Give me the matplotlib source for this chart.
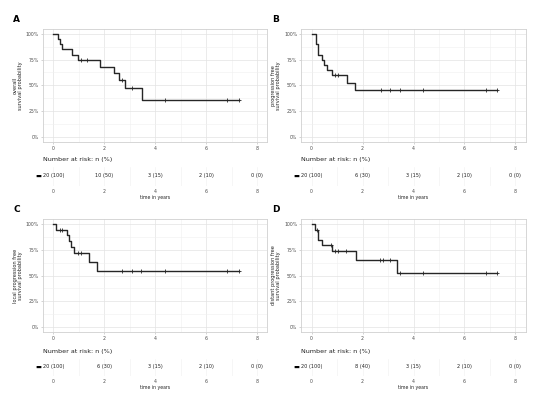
import numpy as np
import matplotlib
matplotlib.use("Agg")
import matplotlib.pyplot as plt
from matplotlib.ticker import MultipleLocator, FuncFormatter

# --- data (Kaplan-Meier steps) ---
A_times = [0, 0.20, 0.28, 0.34, 0.72, 0.96, 1.83, 2.39, 2.58, 2.83, 3.50]
A_surv = [1.0, 0.95, 0.90, 0.85, 0.80, 0.75, 0.682, 0.617, 0.552, 0.474, 0.354]
A_cens = [1.09, 1.34, 2.71, 3.08, 4.40, 6.84, 7.29]
A_risk = ["20 (100)", "10 (50)", "3 (15)", "2 (10)", "0 (0)"]

B_times = [0, 0.16, 0.24, 0.42, 0.50, 0.60, 0.80, 1.38, 1.69]
B_surv = [1.0, 0.90, 0.80, 0.75, 0.70, 0.65, 0.60, 0.526, 0.455]
B_cens = [0.92, 1.05, 2.71, 3.07, 3.48, 4.39, 6.83, 7.28]
B_risk = ["20 (100)", "6 (30)", "3 (15)", "2 (10)", "0 (0)"]

C_times = [0, 0.10, 0.55, 0.62, 0.69, 0.83, 1.42, 1.70]
C_surv = [1.0, 0.948, 0.893, 0.834, 0.779, 0.724, 0.636, 0.545]
C_cens = [0.26, 0.33, 0.98, 1.07, 2.71, 3.09, 3.46, 4.40, 6.84, 7.29]
C_risk = ["20 (100)", "6 (30)", "3 (15)", "2 (10)", "0 (0)"]

D_times = [0, 0.14, 0.24, 0.42, 0.81, 1.73, 3.36]
D_surv = [1.0, 0.948, 0.847, 0.795, 0.740, 0.656, 0.523]
D_cens = [0.21, 0.75, 0.91, 1.04, 1.33, 2.70, 2.80, 3.06, 3.46, 4.39, 6.83, 7.28]
D_risk = ["20 (100)", "8 (40)", "3 (15)", "2 (10)", "0 (0)"]

risk_times = [0, 2, 4, 6, 8]

panels = [
    ("A", "overall\nsurvival probability", A_times, A_surv, A_cens, A_risk),
    ("B", "progression free\nsurvival probability", B_times, B_surv, B_cens, B_risk),
    ("C", "local progression free\nsurvival probability", C_times, C_surv, C_cens, C_risk),
    ("D", "distant progression free\nsurvival probability", D_times, D_surv, D_cens, D_risk),
]

W, H = 538, 399
fig = plt.figure(figsize=(W / 100, H / 100), dpi=100)
fig.patch.set_facecolor("white")


def px_axes(left, top, right, bottom):
    # pixel box (from top-left) -> figure fraction
    return fig.add_axes([left / W, 1 - bottom / H, (right - left) / W, (bottom - top) / H])


line_col = "#262626"
grid_major = "#e3e3e3"
grid_minor = "#f0f0f0"
txt_col = "#4d4d4d"

# pixel layout: plot box, risk table box, title y, letter pos
layout = {
    "A": dict(x0=43.1, x1=267.2, top=28.9, bot=141.7, rt=167, rb=186, ry=160, lab=(13, 19)),
    "B": dict(x0=301.5, x1=525.6, top=28.9, bot=141.7, rt=167, rb=186, ry=160, lab=(272, 19)),
    "C": dict(x0=43.1, x1=267.2, top=219.2, bot=331.8, rt=359, rb=376, ry=351, lab=(13, 209)),
    "D": dict(x0=301.5, x1=525.6, top=219.2, bot=331.8, rt=359, rb=376, ry=351, lab=(272, 210)),
}

for letter, ylab, times, surv, cens, risk in panels:
    L = layout[letter]
    ax = px_axes(L["x0"], L["top"], L["x1"], L["bot"])

    t = np.array(times + [max(cens)])
    s = np.array(surv + [surv[-1]])
    ax.step(t, s, where="post", color=line_col, lw=1.0, zorder=3)
    c_s = np.array(surv)[np.searchsorted(times, cens, side="right") - 1]
    ax.plot(cens, c_s, ls="none", marker="+", ms=3, mew=0.6, color=line_col, zorder=4)

    ax.set_xlim(-0.4, 8.4)
    ax.set_ylim(-0.05, 1.05)
    ax.xaxis.set_major_locator(MultipleLocator(2))
    ax.xaxis.set_minor_locator(MultipleLocator(1))
    ax.yaxis.set_major_locator(MultipleLocator(0.25))
    ax.yaxis.set_minor_locator(MultipleLocator(0.125))
    ax.yaxis.set_major_formatter(FuncFormatter(lambda v, p: f"{v * 100:.0f}%"))
    ax.grid(which="major", color=grid_major, lw=0.5)
    ax.grid(which="minor", color=grid_minor, lw=0.4)
    ax.set_axisbelow(True)
    for sp in ax.spines.values():
        sp.set_color("#d0d0d0")
        sp.set_linewidth(0.6)
    ax.tick_params(which="major", length=1.5, width=0.4, color="#b3b3b3",
                   labelsize=3.3, labelcolor=txt_col, pad=1.5)
    ax.tick_params(which="minor", length=0)
    ax.set_ylabel(ylab, fontsize=3.6, color="#222222", labelpad=2, linespacing=1.0)

    fig.text(L["lab"][0] / W, 1 - L["lab"][1] / H, letter, fontsize=6.5,
             fontweight="bold", ha="left", va="center")

    # risk table
    rax = px_axes(L["x0"], L["rt"], L["x1"], L["rb"])
    rax.set_xlim(-0.4, 8.4)
    rax.set_ylim(0, 1)
    for xr, lab in zip(risk_times, risk):
        rax.text(xr, 0.55, lab, ha="center", va="center", fontsize=3.6, color="#222222")
    rax.xaxis.set_major_locator(MultipleLocator(2))
    rax.xaxis.set_minor_locator(MultipleLocator(1))
    rax.grid(which="both", axis="x", color=grid_minor, lw=0.4)
    rax.set_yticks([0.55])
    rax.set_yticklabels(["\u25ac"], fontsize=4.5, color="black")
    rax.tick_params(axis="y", length=0, pad=1.5)
    rax.tick_params(axis="x", which="both", length=0, labelsize=3.3,
                    labelcolor=txt_col, pad=2.5)
    for sp in rax.spines.values():
        sp.set_visible(False)
    rax.set_xlabel("time in years", fontsize=3.3, color="#222222", labelpad=0.5)

    fig.text(L["x0"] / W, 1 - L["ry"] / H, "Number at risk: n (%)", fontsize=4.6,
             color="#222222", ha="left", va="center")

fig.savefig("out.png", dpi=100, facecolor="white")
